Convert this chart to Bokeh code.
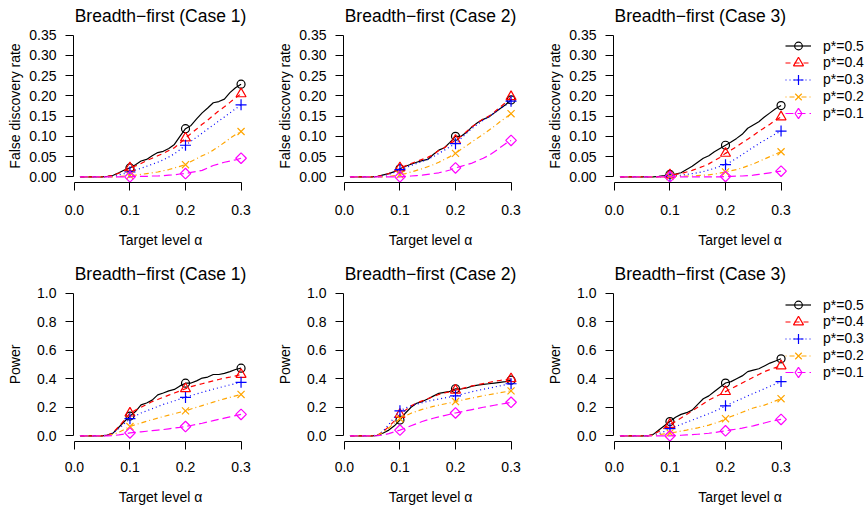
import math
from bokeh.plotting import figure
from bokeh.layouts import column, row
from bokeh.models import FixedTicker, PrintfTickFormatter, Legend, LegendItem, Range1d
from bokeh.embed import file_html
from bokeh.resources import INLINE

alpha = [0.01, 0.02, 0.03, 0.04, 0.05, 0.06, 0.07, 0.08, 0.09, 0.10,
         0.11, 0.12, 0.13, 0.14, 0.15, 0.16, 0.17, 0.18, 0.19, 0.20,
         0.21, 0.22, 0.23, 0.24, 0.25, 0.26, 0.27, 0.28, 0.29, 0.30]
mark_alpha = [0.1, 0.2, 0.3]
series_labels = ["p*=0.5", "p*=0.4", "p*=0.3", "p*=0.2", "p*=0.1"]
x_ticks = [0.0, 0.1, 0.2, 0.3]
fdr_ticks = [0.0, 0.05, 0.10, 0.15, 0.20, 0.25, 0.30, 0.35]
power_ticks = [0.0, 0.2, 0.4, 0.6, 0.8, 1.0]
titles = ["Breadth\u2212first (Case 1)", "Breadth\u2212first (Case 2)", "Breadth\u2212first (Case 3)"]

# ---- False discovery rate, Case 1 ----
fdr1_p5 = [0, 0, 0, 0, 0, 0.001, 0.004, 0.010, 0.017, 0.022, 0.030, 0.039, 0.043, 0.052, 0.060,
           0.063, 0.070, 0.080, 0.100, 0.119, 0.127, 0.143, 0.158, 0.170, 0.183, 0.186, 0.192, 0.208, 0.220, 0.229]
fdr1_p4 = [0, 0, 0, 0, 0, 0.001, 0.004, 0.009, 0.015, 0.022, 0.027, 0.033, 0.040, 0.046, 0.052,
           0.058, 0.065, 0.072, 0.083, 0.096, 0.107, 0.118, 0.130, 0.140, 0.152, 0.163, 0.173, 0.184, 0.195, 0.205]
fdr1_p3 = [0, 0, 0, 0, 0, 0, 0.002, 0.005, 0.008, 0.012, 0.017, 0.021, 0.026, 0.031, 0.036,
           0.042, 0.049, 0.057, 0.067, 0.078, 0.088, 0.098, 0.108, 0.118, 0.128, 0.138, 0.148, 0.158, 0.168, 0.178]
fdr1_p2 = [0, 0, 0, 0, 0, 0, 0, 0.001, 0.002, 0.003, 0.004, 0.006, 0.008, 0.010, 0.012,
           0.015, 0.018, 0.022, 0.026, 0.030, 0.038, 0.045, 0.052, 0.058, 0.066, 0.075, 0.085, 0.095, 0.104, 0.112]
fdr1_p1 = [0, 0, 0, 0, 0, 0, 0, 0, 0, 0, 0.001, 0.001, 0.001, 0.002, 0.002,
           0.003, 0.004, 0.005, 0.007, 0.008, 0.011, 0.013, 0.016, 0.022, 0.028, 0.032, 0.036, 0.039, 0.042, 0.046]

# ---- False discovery rate, Case 2 ----
fdr2_p5 = [0, 0, 0, 0, 0, 0.001, 0.005, 0.008, 0.013, 0.020, 0.026, 0.031, 0.036, 0.040, 0.043,
           0.055, 0.066, 0.072, 0.085, 0.100, 0.100, 0.110, 0.124, 0.134, 0.142, 0.148, 0.158, 0.168, 0.178, 0.190]
fdr2_p4 = [0, 0, 0, 0, 0, 0.001, 0.004, 0.008, 0.014, 0.022, 0.027, 0.033, 0.038, 0.043, 0.048,
           0.055, 0.065, 0.072, 0.082, 0.090, 0.100, 0.112, 0.124, 0.134, 0.143, 0.150, 0.160, 0.172, 0.183, 0.198]
fdr2_p3 = [0, 0, 0, 0, 0, 0, 0.003, 0.006, 0.011, 0.018, 0.022, 0.028, 0.033, 0.038, 0.043,
           0.050, 0.058, 0.066, 0.074, 0.082, 0.095, 0.108, 0.120, 0.130, 0.140, 0.148, 0.158, 0.168, 0.177, 0.187]
fdr2_p2 = [0, 0, 0, 0, 0, 0, 0, 0.001, 0.003, 0.005, 0.008, 0.012, 0.016, 0.020, 0.025,
           0.030, 0.036, 0.043, 0.050, 0.058, 0.068, 0.077, 0.087, 0.096, 0.105, 0.115, 0.125, 0.136, 0.146, 0.156]
fdr2_p1 = [0, 0, 0, 0, 0, 0, 0, 0, 0, 0, 0.001, 0.002, 0.003, 0.004, 0.006,
           0.008, 0.010, 0.013, 0.017, 0.022, 0.026, 0.030, 0.034, 0.040, 0.046, 0.053, 0.062, 0.072, 0.082, 0.090]

# ---- False discovery rate, Case 3 ----
fdr3_p5 = [0, 0, 0, 0, 0, 0, 0, 0.001, 0.003, 0.006, 0.007, 0.010, 0.018, 0.026, 0.036,
           0.046, 0.052, 0.062, 0.070, 0.078, 0.086, 0.095, 0.105, 0.120, 0.128, 0.136, 0.148, 0.158, 0.168, 0.176]
fdr3_p4 = [0, 0, 0, 0, 0, 0, 0, 0, 0.002, 0.005, 0.006, 0.008, 0.012, 0.016, 0.021,
           0.026, 0.032, 0.040, 0.048, 0.058, 0.066, 0.075, 0.084, 0.093, 0.102, 0.112, 0.121, 0.130, 0.140, 0.148]
fdr3_p3 = [0, 0, 0, 0, 0, 0, 0, 0, 0, 0.002, 0.003, 0.004, 0.006, 0.008, 0.010,
           0.013, 0.017, 0.021, 0.026, 0.030, 0.038, 0.046, 0.055, 0.064, 0.073, 0.082, 0.090, 0.098, 0.106, 0.113]
fdr3_p2 = [0, 0, 0, 0, 0, 0, 0, 0, 0, 0.001, 0.001, 0.002, 0.002, 0.002, 0.003,
           0.004, 0.005, 0.007, 0.009, 0.012, 0.015, 0.018, 0.022, 0.027, 0.032, 0.038, 0.044, 0.050, 0.056, 0.062]
fdr3_p1 = [0, 0, 0, 0, 0, 0, 0, 0, 0, 0, 0, 0, 0, 0, 0,
           0, 0, 0, 0, 0.001, 0.001, 0.002, 0.002, 0.003, 0.004, 0.006, 0.008, 0.010, 0.012, 0.014]

# ---- Power, Case 1 ----
pow1_p5 = [0, 0, 0, 0, 0, 0.005, 0.020, 0.060, 0.100, 0.138, 0.170, 0.217, 0.230, 0.250, 0.287,
           0.300, 0.315, 0.325, 0.350, 0.369, 0.370, 0.385, 0.405, 0.412, 0.430, 0.430, 0.438, 0.450, 0.465, 0.474]
pow1_p4 = [0, 0, 0, 0, 0, 0.005, 0.025, 0.065, 0.110, 0.159, 0.180, 0.200, 0.220, 0.240, 0.255,
           0.270, 0.285, 0.300, 0.315, 0.330, 0.345, 0.355, 0.365, 0.375, 0.385, 0.395, 0.405, 0.412, 0.420, 0.430]
pow1_p3 = [0, 0, 0, 0, 0, 0.005, 0.020, 0.050, 0.085, 0.120, 0.140, 0.160, 0.175, 0.190, 0.205,
           0.220, 0.232, 0.245, 0.258, 0.269, 0.282, 0.294, 0.305, 0.316, 0.327, 0.337, 0.347, 0.357, 0.366, 0.375]
pow1_p2 = [0, 0, 0, 0, 0, 0.002, 0.010, 0.025, 0.045, 0.065, 0.078, 0.090, 0.102, 0.113, 0.124,
           0.135, 0.145, 0.155, 0.165, 0.175, 0.188, 0.200, 0.212, 0.224, 0.236, 0.248, 0.259, 0.270, 0.280, 0.290]
pow1_p1 = [0, 0, 0, 0, 0, 0, 0.002, 0.006, 0.012, 0.020, 0.024, 0.028, 0.032, 0.036, 0.040,
           0.044, 0.049, 0.054, 0.059, 0.065, 0.072, 0.080, 0.088, 0.097, 0.106, 0.115, 0.124, 0.133, 0.142, 0.150]

# ---- Power, Case 2 ----
pow2_p5 = [0, 0, 0, 0, 0, 0.003, 0.020, 0.040, 0.070, 0.110, 0.160, 0.200, 0.228, 0.240, 0.258,
           0.278, 0.298, 0.305, 0.312, 0.330, 0.328, 0.335, 0.348, 0.355, 0.360, 0.365, 0.370, 0.375, 0.380, 0.390]
pow2_p4 = [0, 0, 0, 0, 0, 0.005, 0.030, 0.065, 0.105, 0.150, 0.180, 0.210, 0.230, 0.245, 0.260,
           0.275, 0.290, 0.300, 0.310, 0.320, 0.330, 0.340, 0.350, 0.358, 0.366, 0.374, 0.382, 0.388, 0.394, 0.400]
pow2_p3 = [0, 0, 0, 0, 0, 0.005, 0.035, 0.080, 0.130, 0.175, 0.195, 0.210, 0.222, 0.232, 0.242,
           0.250, 0.258, 0.265, 0.272, 0.280, 0.290, 0.300, 0.310, 0.318, 0.326, 0.334, 0.342, 0.350, 0.358, 0.365]
pow2_p2 = [0, 0, 0, 0, 0, 0.003, 0.025, 0.055, 0.090, 0.120, 0.140, 0.158, 0.172, 0.185, 0.196,
           0.206, 0.215, 0.223, 0.231, 0.240, 0.249, 0.257, 0.265, 0.273, 0.281, 0.288, 0.295, 0.302, 0.309, 0.315]
pow2_p1 = [0, 0, 0, 0, 0, 0.001, 0.005, 0.015, 0.028, 0.040, 0.055, 0.070, 0.085, 0.100, 0.112,
           0.123, 0.133, 0.142, 0.151, 0.160, 0.168, 0.176, 0.184, 0.192, 0.200, 0.207, 0.214, 0.221, 0.228, 0.235]

# ---- Power, Case 3 ----
pow3_p5 = [0, 0, 0, 0, 0, 0, 0.010, 0.040, 0.070, 0.100, 0.130, 0.150, 0.162, 0.180, 0.220,
           0.260, 0.280, 0.310, 0.340, 0.370, 0.380, 0.400, 0.420, 0.450, 0.460, 0.470, 0.490, 0.510, 0.525, 0.540]
pow3_p4 = [0, 0, 0, 0, 0, 0, 0.010, 0.030, 0.055, 0.080, 0.100, 0.125, 0.150, 0.175, 0.200,
           0.225, 0.250, 0.270, 0.290, 0.310, 0.330, 0.350, 0.370, 0.390, 0.410, 0.430, 0.450, 0.465, 0.478, 0.490]
pow3_p3 = [0, 0, 0, 0, 0, 0, 0.005, 0.015, 0.030, 0.050, 0.065, 0.080, 0.095, 0.110, 0.125,
           0.140, 0.155, 0.172, 0.190, 0.210, 0.228, 0.245, 0.262, 0.280, 0.297, 0.313, 0.330, 0.347, 0.363, 0.380]
pow3_p2 = [0, 0, 0, 0, 0, 0, 0.003, 0.008, 0.014, 0.020, 0.026, 0.033, 0.040, 0.048, 0.056,
           0.065, 0.075, 0.087, 0.100, 0.120, 0.135, 0.150, 0.165, 0.180, 0.195, 0.205, 0.215, 0.230, 0.245, 0.260]
pow3_p1 = [0, 0, 0, 0, 0, 0, 0, 0, 0, 0, 0.002, 0.004, 0.006, 0.008, 0.011,
           0.014, 0.018, 0.023, 0.029, 0.035, 0.041, 0.047, 0.054, 0.062, 0.070, 0.080, 0.090, 0.100, 0.108, 0.115]

FONT = "Liberation Sans"
colors = ["black", "red", "blue", "orange", "magenta"]
dashes = ["solid", "5 4", "1 3", "1 3 5 3", "8 4"]
markers = ["circle", "triangle", "cross", "x", "square"]
legend_markers = ["circle", "triangle", "cross", "x", "diamond"]
msizes = [8, 10, 11, 10, 7.5]
mangles = [0, 0, 0, 0, math.pi / 4]
legend_box_h = [19, 25, 25, 23, 26]     # legend marker size is 0.4 x this box

X0, X1 = -0.0016, 0.3116      # R-style 4% extended x limits
BASE_FRAME_W = 174            # frame width of the plain panels
BORDER_L = 73
LEG_X = 172                   # legend left, px from frame left
LEG_TOP_CENTER = 136.5        # centre of first legend row, px above frame bottom
LEG_PITCH = 16.85             # px between legend rows


def make_panel(series, title, ylab, yticks, yfmt, ymin, ymax, width, height,
               border_right, border_bottom, xlab_standoff, ylab_standoff, with_legend):
    frame_w = width - BORDER_L - border_right
    px_per_unit = BASE_FRAME_W / (X1 - X0)
    x_end = X0 + frame_w / px_per_unit
    p = figure(width=width, height=height, output_backend="svg", toolbar_location=None,
               x_range=Range1d(X0, x_end), y_range=Range1d(ymin, ymax),
               min_border_left=BORDER_L, min_border_right=border_right,
               min_border_top=29, min_border_bottom=border_bottom)
    p.outline_line_color = None
    p.xgrid.visible = False
    p.ygrid.visible = False
    p.background_fill_color = "white"
    p.border_fill_color = "white"

    p.title.text = title
    p.title.text_font = FONT
    p.title.text_font_size = "17.5px"
    p.title.text_font_style = "normal"
    p.title.text_color = "black"
    p.title.standoff = 7
    if with_legend:
        p.title.align = "left"
        p.title.offset = 1
    else:
        p.title.align = "center"

    for ax in (p.xaxis[0], p.yaxis[0]):
        ax.axis_line_color = "black"
        ax.axis_line_width = 1
        ax.major_tick_line_color = "black"
        ax.major_tick_in = 0
        ax.major_tick_out = 8
        ax.minor_tick_line_color = None
        ax.major_label_text_font = FONT
        ax.major_label_text_font_size = "14px"
        ax.major_label_text_color = "black"
        ax.axis_label_text_font = FONT
        ax.axis_label_text_font_size = "14px"
        ax.axis_label_text_font_style = "normal"
        ax.axis_label_text_color = "black"

    xa = p.xaxis[0]
    xa.ticker = FixedTicker(ticks=x_ticks)
    xa.formatter = PrintfTickFormatter(format="%.1f")
    xa.bounds = (x_ticks[0], x_ticks[-1])
    xa.axis_label = "Target level \u03b1"
    xa.major_label_standoff = xlab_standoff
    xa.axis_label_standoff = 14

    ya = p.yaxis[0]
    ya.ticker = FixedTicker(ticks=yticks)
    ya.formatter = PrintfTickFormatter(format=yfmt)
    ya.bounds = (yticks[0], yticks[-1])
    ya.axis_label = ylab
    ya.major_label_orientation = "horizontal"
    ya.major_label_standoff = 9
    ya.axis_label_standoff = ylab_standoff

    items = []
    for vals, lab, col, dash, mk, lmk, ms, ang in zip(series, series_labels, colors, dashes,
                                                        markers, legend_markers, msizes, mangles):
        r_line = p.line(alpha, vals, line_color=col, line_width=1.2, line_dash=dash)
        my = [vals[alpha.index(a)] for a in mark_alpha]
        r_mk = p.scatter(mark_alpha, my, marker=mk, size=ms, angle=ang,
                         line_color=col, fill_color=None, line_width=1.2)
        if lmk != mk:
            # legend-only glyph (the legend does not rotate markers); its single
            # point lies left of the visible x range, so it never shows in the plot
            r_leg = p.scatter([X0 - 1.0], [my[-1]], marker=lmk, size=ms, line_color=col,
                              fill_color=None, line_width=1.2)
            items.append(LegendItem(label=lab, renderers=[r_line, r_leg]))
        else:
            items.append(LegendItem(label=lab, renderers=[r_line, r_mk]))

    if with_legend:
        for k, (item, bh) in enumerate(zip(items, legend_box_h)):
            center = LEG_TOP_CENTER - k * LEG_PITCH
            leg = Legend(items=[item], location=(LEG_X, center - bh / 2))
            leg.border_line_color = None
            leg.background_fill_alpha = 0
            leg.padding = 0
            leg.margin = 0
            leg.spacing = 0
            leg.glyph_width = 26
            leg.glyph_height = bh
            leg.label_height = bh
            leg.label_standoff = 12
            leg.label_text_font = FONT
            leg.label_text_font_size = "14px"
            leg.label_text_color = "black"
            p.add_layout(leg)
    return p


fdr_sets = [
    [fdr1_p5, fdr1_p4, fdr1_p3, fdr1_p2, fdr1_p1],
    [fdr2_p5, fdr2_p4, fdr2_p3, fdr2_p2, fdr2_p1],
    [fdr3_p5, fdr3_p4, fdr3_p3, fdr3_p2, fdr3_p1],
]
pow_sets = [
    [pow1_p5, pow1_p4, pow1_p3, pow1_p2, pow1_p1],
    [pow2_p5, pow2_p4, pow2_p3, pow2_p2, pow2_p1],
    [pow3_p5, pow3_p4, pow3_p3, pow3_p2, pow3_p1],
]

widths = [270, 270, 326]
rights = [23, 23, 0]

top = []
bottom = []
for i in range(3):
    top.append(make_panel(fdr_sets[i], titles[i], "False discovery rate", fdr_ticks, "%.2f",
                          -0.014, 0.364, widths[i], 258, rights[i], 76, 14, 3, i == 2))
    bottom.append(make_panel(pow_sets[i], titles[i], "Power", power_ticks, "%.1f",
                             -0.04, 1.04, widths[i], 252, rights[i], 69, 12, 11, i == 2))

layout = column(row(*top), row(*bottom))
open("out.html", "w").write(file_html(layout, INLINE))
